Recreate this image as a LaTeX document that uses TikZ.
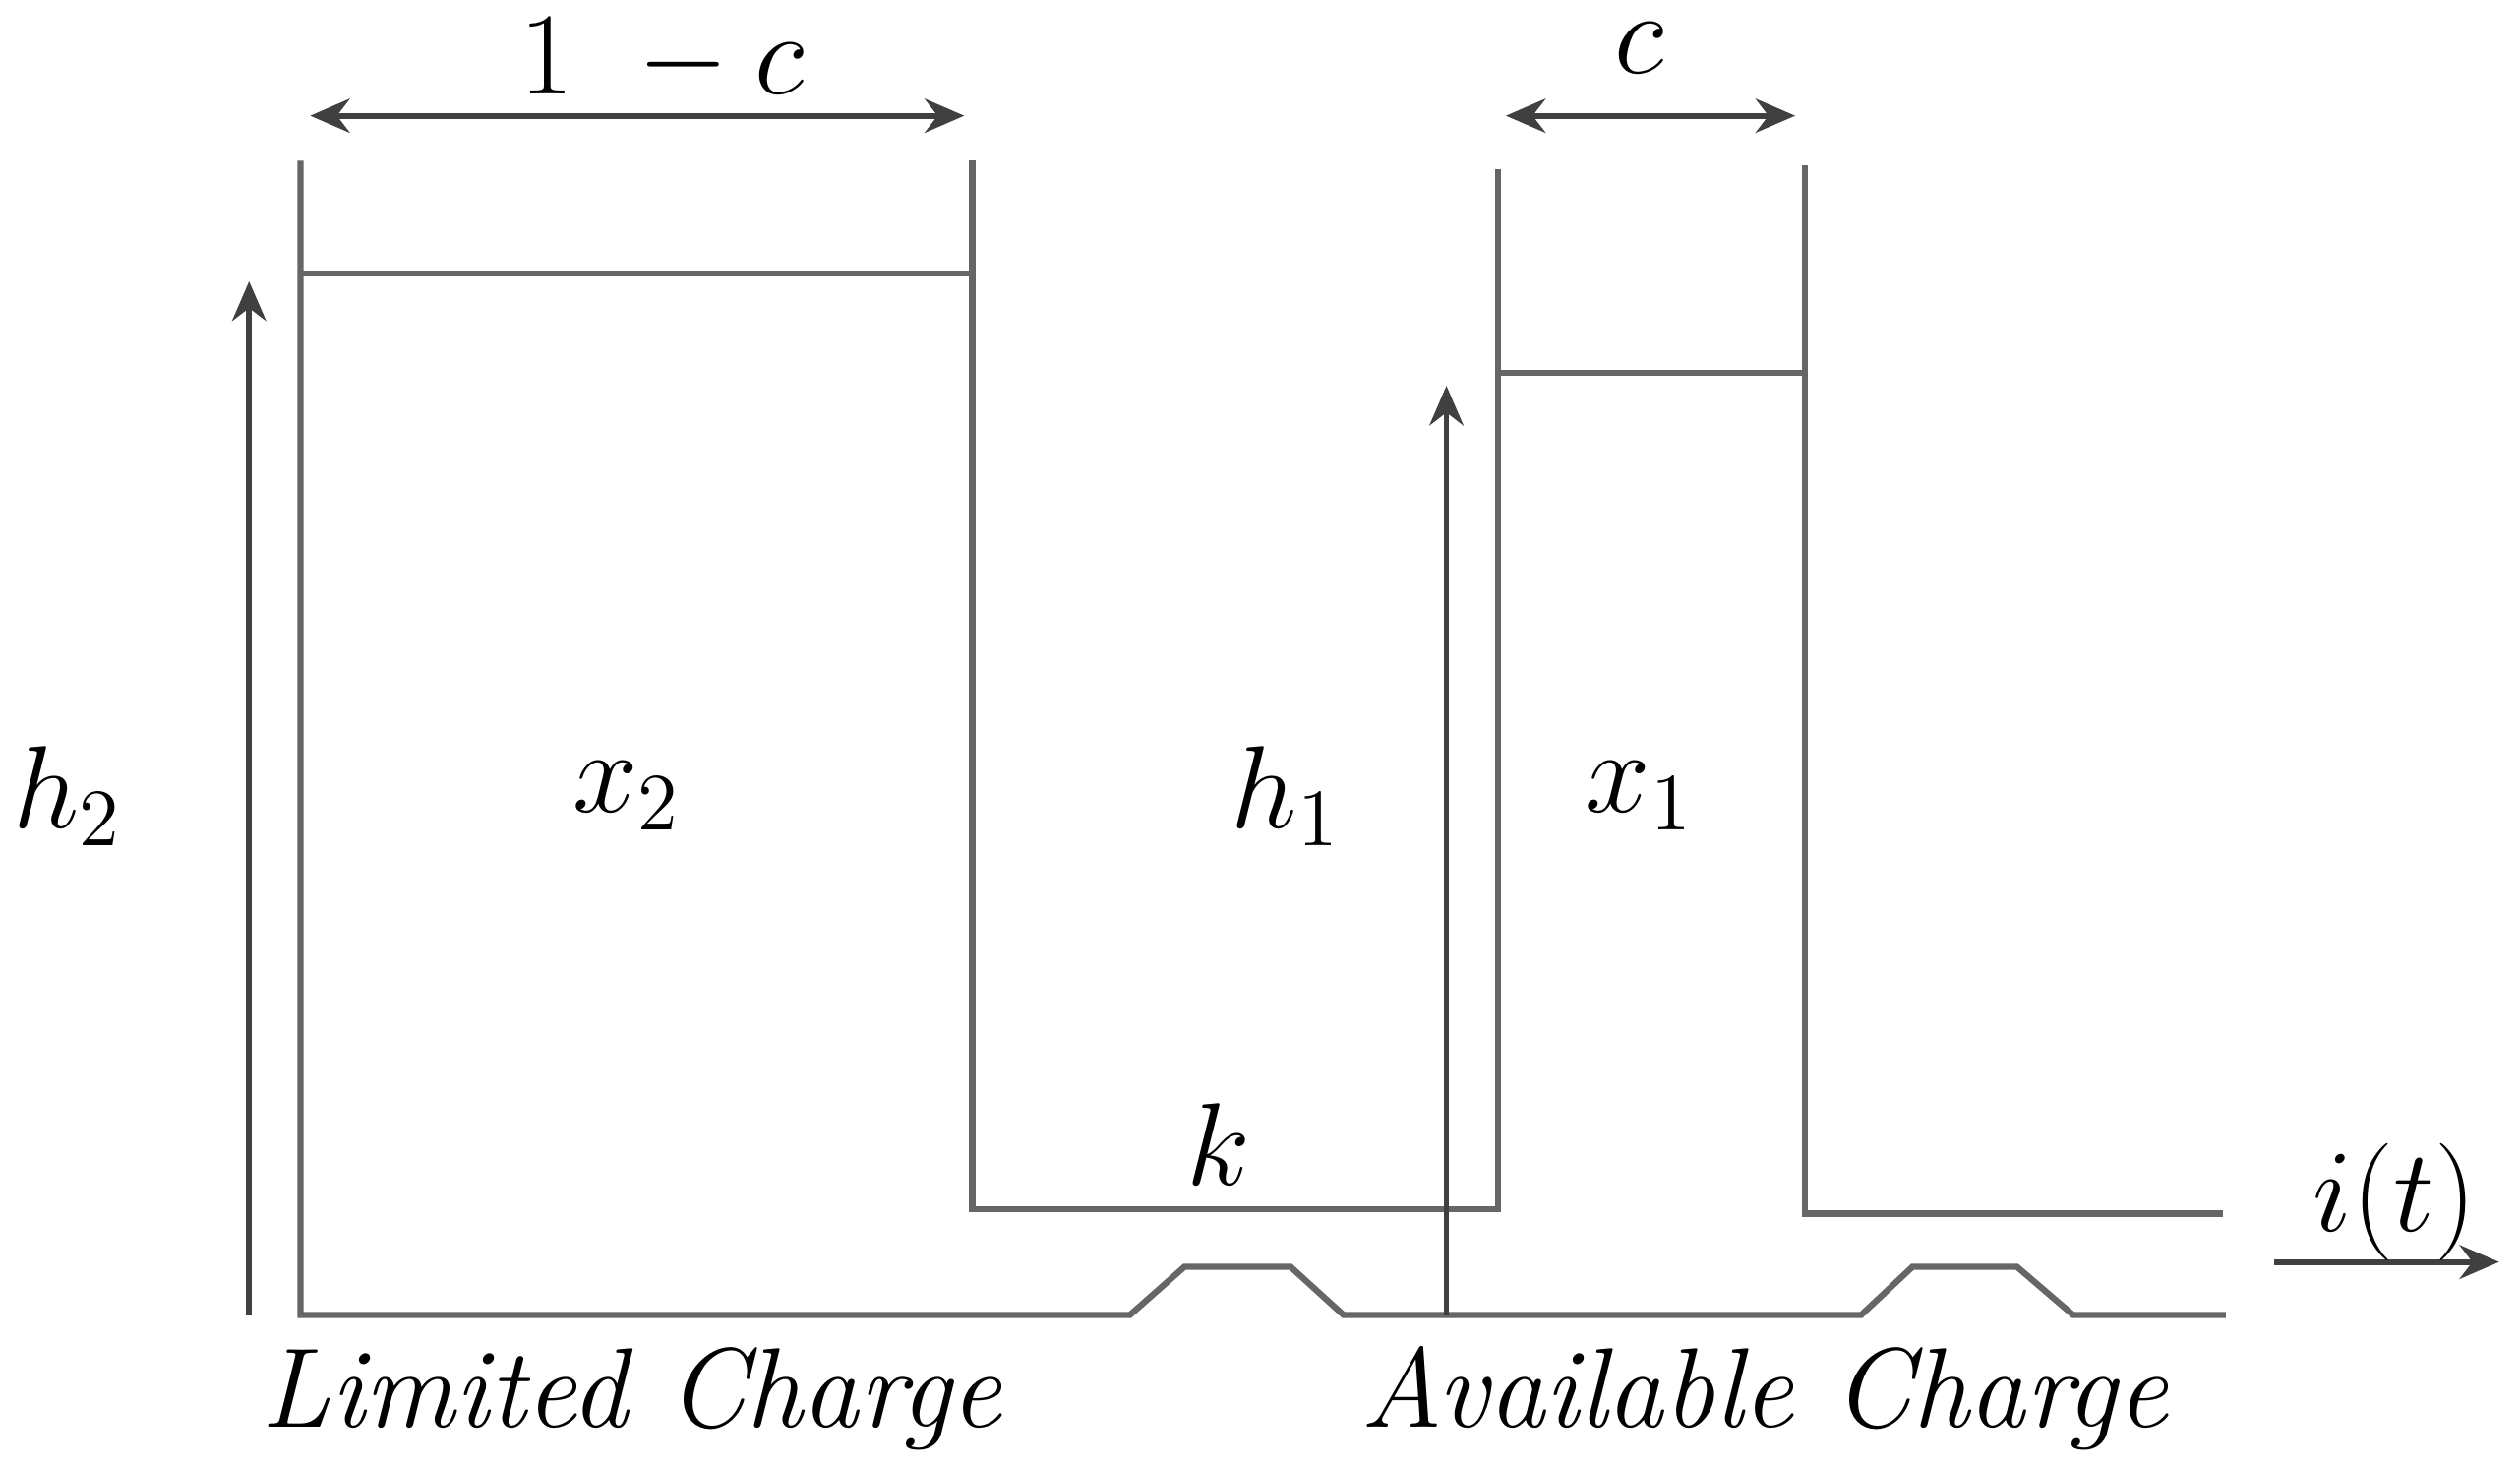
\documentclass[tikz,border=0pt]{standalone}
\usetikzlibrary{arrows.meta}
\begin{document}
\begin{tikzpicture}[x=0.01cm,y=-0.01cm,
  wall/.style={draw=black!60,line width=1.1pt},
  arr/.style={draw=black!75,line width=1pt,-{Stealth[length=7pt,width=6pt]}},
  darr/.style={draw=black!75,line width=1pt,{Stealth[length=7pt,width=6pt]}-{Stealth[length=7pt,width=6pt]}},
  lbl/.style={font=\fontsize{22}{26}\selectfont},
  captext/.style={font=\fontsize{20}{24}\selectfont\itshape}]
\useasboundingbox (0,0) rectangle (1568,912);
% left tank
\draw[wall] (187,100) -- (187,818) -- (703,818) -- (737,788) -- (803,788) -- (836,818) -- (1158,818) -- (1190,788) -- (1255,788) -- (1290,818) -- (1385,818);
\draw[wall] (605,100) -- (605,752) -- (932,752) -- (932,105);
\draw[wall] (1123,103) -- (1123,755) -- (1383,755);
\draw[wall] (187,170) -- (605,170);
\draw[wall] (932,232) -- (1123,232);
% arrows
\coordinate (h2a) at (155,818); \coordinate (h2b) at (155,175);
\coordinate (h1a) at (900,818); \coordinate (h1b) at (900,240);
\draw[arr] (h2a) -- (h2b);
\draw[arr] (h1a) -- (h1b);
\coordinate (d1a) at (193,72); \coordinate (d1b) at (600,72);
\coordinate (d2a) at (937,72); \coordinate (d2b) at (1117,72);
\draw[darr] (d1a) -- (d1b);
\draw[darr] (d2a) -- (d2b);
\coordinate (ia) at (1415,785); \coordinate (ib) at (1555,785);
\draw[arr] (ia) -- (ib);
% labels
\node[lbl] (t1c) at (412,38) {$1\ -c$};
\node[lbl] (tc) at (1020,30) {$c$};
\node[lbl] (th2) at (42,495) {$h_2$};
\node[lbl] (tx2) at (390,495) {$x_2$};
\node[lbl] (th1) at (800,495) {$h_1$};
\node[lbl] (tx1) at (1020,495) {$x_1$};
\node[lbl] (tk) at (758,712) {$k$};
\node[lbl] (ti) at (1490,748) {$i(t)$};
\node[captext] (lc) at (393,870) {Limited Charge};
\node[captext] (ac) at (1098,870) {Available Charge};
\end{tikzpicture}
\end{document}
